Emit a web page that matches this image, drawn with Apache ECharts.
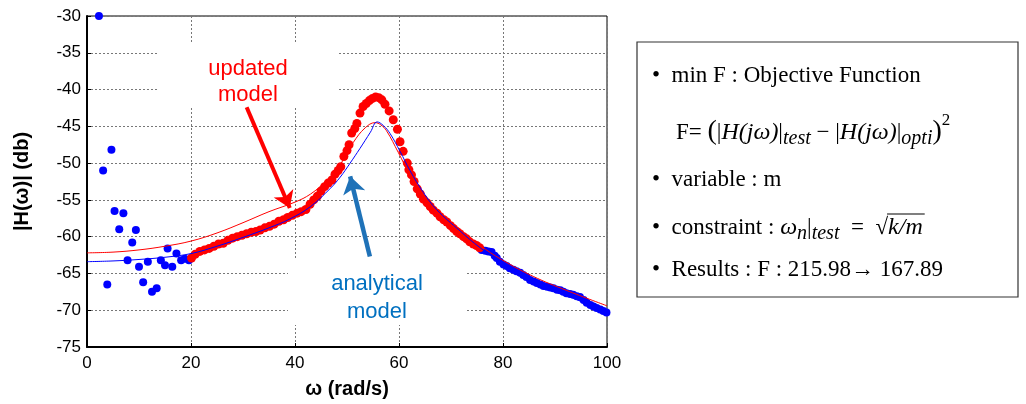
<!DOCTYPE html>
<html>
<head>
<meta charset="utf-8">
<script src="https://cdn.jsdelivr.net/npm/echarts@6/dist/echarts.min.js"></script>
<style>
html,body{margin:0;padding:0;background:#fff;}
#main{width:1026px;height:404px;}
</style>
</head>
<body>
<div id="main"></div>
<script>
// measured points (blue = test, low freq + tail), red = test points over 20..75
var blueDots = [
    [2.3,-30.0],[3.1,-51.0],[3.9,-66.5],[4.7,-48.2],[5.3,-56.5],[6.2,-59.0],[7.0,-56.8],
    [7.8,-63.2],[8.7,-60.8],[9.4,-59.1],[10.0,-64.1],[10.8,-66.2],[11.7,-63.4],[12.5,-67.5],
    [13.4,-67.0],[14.2,-63.2],[15.0,-63.9],[15.5,-61.6],[16.4,-64.1],[17.2,-62.3],[18.1,-63.2],
    [18.8,-63.0],[19.6,-63.2],
    [75.9,-61.8],[76.6,-61.9],[77.2,-62.0],[77.8,-62.1],[78.4,-62.6],[78.8,-62.9],[79.4,-63.4],
    [80.1,-63.8],[80.7,-64.0],[81.3,-64.3],[82.0,-64.5],[82.6,-64.7],[83.3,-64.9],[83.9,-65.2],
    [84.5,-65.5],[85.2,-65.9],[85.9,-66.1],[86.5,-66.3],[87.2,-66.5],[87.8,-66.7],[88.5,-66.8],
    [89.1,-66.9],[89.7,-67.0],[90.4,-67.2],[91.0,-67.3],[91.6,-67.5],[92.2,-67.7],[92.9,-67.8],
    [93.5,-67.9],[94.2,-68.1],[94.8,-68.2],[95.5,-68.6],[96.1,-69.0],[96.8,-69.3],[97.4,-69.5],
    [98.0,-69.7],[98.7,-69.9],[99.3,-70.1],[99.9,-70.3]
];
var redDots = [
    [20.1,-62.9],[20.8,-62.4],[21.7,-62.0],[22.6,-61.8],[23.5,-61.6],[24.4,-61.3],[25.3,-61.0],
    [26.2,-60.9],[27.1,-60.5],[28.0,-60.2],[28.9,-60.0],[29.8,-59.8],[30.7,-59.6],[31.6,-59.4],
    [32.5,-59.3],[33.3,-59.1],[34.2,-58.8],[35.1,-58.6],[36.0,-58.3],[36.9,-57.9],[37.8,-57.7],
    [38.6,-57.4],[39.5,-57.1],[40.4,-56.8],[41.2,-56.6],[42.1,-56.3],[42.9,-55.6],[43.6,-55.0],
    [44.3,-54.5],[45.0,-53.8],[45.7,-53.2],[46.4,-52.7],[47.1,-52.3],[47.7,-51.5],[48.3,-51.0],
    [48.8,-50.5],[49.4,-49.1],[50.0,-48.3],[50.4,-47.5],[50.9,-45.9],[51.5,-45.3],[51.9,-44.6],
    [52.5,-43.2],[53.1,-42.3],[53.7,-41.9],[54.3,-41.5],[54.9,-41.2],[55.5,-41.0],[56.1,-41.1],
    [56.7,-41.4],[57.3,-42.0],[58.1,-42.9],[58.9,-44.1],[59.7,-45.4],[60.2,-47.1],[60.8,-48.4],
    [61.6,-50.0],[61.9,-50.9],[62.4,-51.6],[62.9,-52.5],[63.5,-53.5],[64.1,-54.2],[64.7,-54.9],
    [65.4,-55.4],[66.0,-55.9],[66.6,-56.4],[67.3,-56.8],[67.9,-57.3],[68.6,-57.7],[69.2,-58.0],
    [69.9,-58.5],[70.5,-58.9],[71.1,-59.3],[71.7,-59.6],[72.4,-60.0],[73.0,-60.3],[73.6,-60.7],
    [74.3,-61.0],[74.9,-61.2],[75.5,-61.5]
];
// model curves
var updatedModel = [
    [0,-62.2],[5,-62.1],[10,-61.8],[15,-61.3],[20,-60.6],[25,-59.5],[30,-58.1],[35,-56.6],
    [40,-55.3],[43,-54.2],[46,-52.4],[48.7,-50.2],[51.2,-47.2],[53.5,-45.2],[55.4,-44.5],
    [56.5,-44.8],[57.6,-45.6],[59.9,-48.6],[62.1,-51.6],[64.7,-54.4],[67.9,-56.7],[71.7,-59.0],
    [75.6,-61.2],[79.7,-63.1],[85.8,-65.4],[92.2,-67.3],[100,-69.4]
];
var analyticalModel = [
    [0,-63.4],[5,-63.3],[10,-63.1],[15,-62.8],[20,-62.3],[25,-61.3],[30,-60.1],[35,-58.8],
    [39,-57.6],[43,-55.9],[46.7,-53.5],[48.7,-51.9],[50.6,-50.0],[52.5,-48.0],[54.5,-45.8],
    [55.8,-44.4],[57.0,-44.9],[58.3,-46.0],[60.2,-48.4],[62.1,-51.0],[64.7,-54.0],[67.2,-56.3],
    [71.7,-59.2],[75.6,-61.5],[80,-63.6],[85,-65.6],[90,-67.3],[95,-68.8],[100,-70.3]
];

var chart = echarts.init(document.getElementById('main'));
var sans = 'Liberation Sans, Arial, sans-serif';
var serif = '"Liberation Serif", "Times New Roman", serif';
var fN = '23px ' + serif, fI = 'italic 24px ' + serif, fS = 'italic 20px ' + serif;
var fP = '28px ' + serif, fU = '17px ' + serif;

// lay text pieces one after another, measuring each piece
var ctx = document.createElement('canvas').getContext('2d');
function runText(x, y, parts, els) {
    parts.forEach(function (p) {
        ctx.font = p[1];
        var w = ctx.measureText(p[0]).width;
        els.push({type: 'text', x: x, y: y + (p[2] || 0), style: {
            text: p[0], font: p[1], fill: '#000', verticalAlign: 'middle'}});
        x += w;
    });
    return x;
}

var boxText = [];
runText(652, 76, [['•  min F : Objective Function', fN]], boxText);
runText(676, 133, [
    ['F= ', fN], ['(', fP, -1], ['|', fN], ['H(jω)', fI], ['|', fN], ['test', fS, 6],
    [' − ', fN], ['|', fN], ['H(jω)', fI], ['|', fN], ['opti', fS, 6], [')', fP, -1], ['2', fU, -12]
], boxText);
runText(652, 180, [['•  variable : m', fN]], boxText);
var rx = runText(652, 228, [
    ['•  constraint : ', fN], ['ω', fI], ['n', fS, 6], ['|', fN], ['test', fS, 6], ['  =  ', fN]
], boxText);
ctx.font = fN;
var sq = ctx.measureText('√').width;
var rEnd = runText(rx, 228, [['√', fN], ['k/m', fI]], boxText);
boxText.push({type: 'line', shape: {x1: rx + sq - 1, y1: 214, x2: rEnd + 2, y2: 214},
    style: {stroke: '#000', lineWidth: 1.2}});
runText(652, 270, [['•  Results : F : 215.98→ 167.89', fN]], boxText);

var option = {
    animation: false,
    grid: {left: 87, right: 419, top: 16, bottom: 57, show: true, borderColor: '#000', borderWidth: 1},
    xAxis: {
        type: 'value', min: 0, max: 100, interval: 20,
        name: 'ω (rad/s)', nameLocation: 'middle', nameGap: 32,
        nameTextStyle: {fontSize: 20, fontWeight: 'bold', color: '#000', fontFamily: sans},
        axisLine: {lineStyle: {color: '#000', width: 2}},
        axisTick: {inside: true, length: 4, lineStyle: {color: '#000'}},
        axisLabel: {fontSize: 17, color: '#000', fontFamily: sans, margin: 8},
        splitLine: {show: true, lineStyle: {color: '#777', type: [2, 2], width: 1}}
    },
    yAxis: {
        type: 'value', min: -75, max: -30, interval: 5,
        name: '|H(ω)| (db)', nameLocation: 'middle', nameGap: 55, nameRotate: 90,
        nameTextStyle: {fontSize: 20, fontWeight: 'bold', color: '#000', fontFamily: sans},
        axisLine: {lineStyle: {color: '#000', width: 2}},
        axisTick: {inside: true, length: 4, lineStyle: {color: '#000'}},
        axisLabel: {fontSize: 17, color: '#000', fontFamily: sans, margin: 6},
        splitLine: {show: true, lineStyle: {color: '#777', type: [2, 2], width: 1}}
    },
    series: [
        {
            type: 'scatter', data: blueDots, symbolSize: 8, z: 3,
            itemStyle: {color: '#0000ff', opacity: 1}
        },
        {
            type: 'scatter', data: redDots, symbolSize: 9, z: 4,
            itemStyle: {color: '#ff0000', opacity: 1}
        },
        {
            type: 'line', data: updatedModel, smooth: 0.4, showSymbol: false, z: 5,
            lineStyle: {color: '#ff0000', width: 1},
            markLine: {
                silent: true, symbol: ['none', 'arrow'], symbolSize: 16,
                label: {show: false},
                lineStyle: {color: '#ff0000', width: 4, type: 'solid'},
                data: [[{coord: [30.7, -42.4]}, {coord: [39.0, -56.1]}]]
            }
        },
        {
            type: 'line', data: analyticalModel, smooth: 0.4, showSymbol: false, z: 5,
            lineStyle: {color: '#0000ff', width: 1},
            markLine: {
                silent: true, symbol: ['none', 'arrow'], symbolSize: 17,
                label: {show: false},
                lineStyle: {color: '#1f72b8', width: 4.5, type: 'solid'},
                data: [[{coord: [54.4, -62.7]}, {coord: [50.6, -51.8]}]]
            }
        }
    ],
    graphic: [
        // white boxes behind the annotation text
        {type: 'rect', z: 1, shape: {x: 158, y: 43, width: 179, height: 63}, style: {fill: '#fff'}},
        {type: 'rect', z: 1, shape: {x: 288, y: 260, width: 179, height: 65}, style: {fill: '#fff'}},
        {type: 'text', z: 6, x: 248, y: 82, style: {
            text: 'updated\nmodel', fill: '#ff0000', font: '22px ' + sans,
            align: 'center', verticalAlign: 'middle', lineHeight: 26}},
        {type: 'text', z: 6, x: 377, y: 298, style: {
            text: 'analytical\nmodel', fill: '#0070c0', font: '22px ' + sans,
            align: 'center', verticalAlign: 'middle', lineHeight: 28}},
        // right side box
        {type: 'rect', shape: {x: 637, y: 42, width: 381, height: 255},
            style: {fill: 'none', stroke: '#333', lineWidth: 1.2}}
    ].concat(boxText)
};
chart.setOption(option);
</script>
</body>
</html>
